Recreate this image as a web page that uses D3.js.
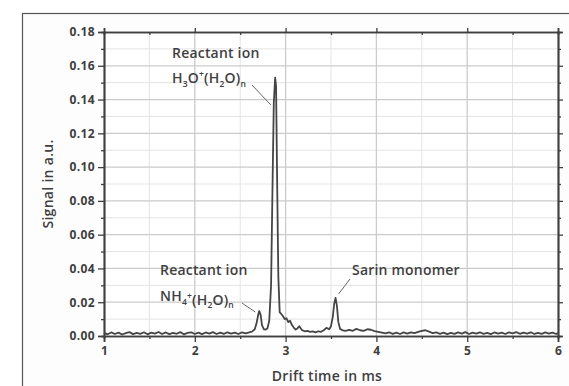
<!DOCTYPE html>
<html>
<head>
<meta charset="utf-8">
<script src="https://cdn.jsdelivr.net/npm/d3@7"></script>
<style>
  html, body { margin: 0; padding: 0; background: #fff; }
  svg { display: block; font-family: "Open Sans", "DejaVu Sans", sans-serif; }
</style>
</head>
<body>
<svg id="chart" width="569" height="386"></svg>
<script>
// Ion mobility spectrum: drift time (ms) vs. signal (a.u.)
const driftTime = [
  1.00, 1.04, 1.08, 1.12, 1.16, 1.20, 1.24, 1.28, 1.32, 1.36, 1.40, 1.44, 1.48, 1.52, 1.56,
  1.60, 1.64, 1.68, 1.72, 1.76, 1.80, 1.84, 1.88, 1.92, 1.96, 2.00, 2.04, 2.08, 2.12, 2.16,
  2.20, 2.24, 2.28, 2.32, 2.36, 2.40, 2.44, 2.48, 2.52, 2.56, 2.60, 2.63, 2.66, 2.68, 2.70,
  2.71, 2.725, 2.74, 2.76, 2.78, 2.80, 2.82, 2.84, 2.855, 2.87, 2.885, 2.895, 2.905, 2.92, 2.935,
  2.95, 2.97, 2.99, 3.01, 3.03, 3.05, 3.07, 3.09, 3.11, 3.13, 3.15, 3.18, 3.21, 3.24, 3.27,
  3.30, 3.33, 3.36, 3.39, 3.42, 3.45, 3.48, 3.50, 3.52, 3.535, 3.55, 3.565, 3.58, 3.60, 3.63,
  3.66, 3.70, 3.74, 3.78, 3.82, 3.86, 3.90, 3.94, 3.98, 4.02, 4.06, 4.10, 4.14, 4.18, 4.22,
  4.26, 4.30, 4.34, 4.38, 4.42, 4.46, 4.50, 4.54, 4.58, 4.62, 4.66, 4.70, 4.74, 4.78, 4.82,
  4.86, 4.90, 4.94, 4.98, 5.02, 5.06, 5.10, 5.14, 5.18, 5.22, 5.26, 5.30, 5.34, 5.38, 5.42,
  5.46, 5.50, 5.54, 5.58, 5.62, 5.66, 5.70, 5.74, 5.78, 5.82, 5.86, 5.90, 5.94, 5.98, 6.00
];
const signal = [
  0.0018, 0.0010, 0.0021, 0.0012, 0.0020, 0.0009, 0.0017, 0.0023, 0.0011, 0.0019, 0.0013, 0.0022, 0.0010, 0.0020, 0.0014,
  0.0024, 0.0012, 0.0021, 0.0011, 0.0019, 0.0013, 0.0023, 0.0010, 0.0018, 0.0022, 0.0012, 0.0020, 0.0011, 0.0021, 0.0014,
  0.0023, 0.0012, 0.0020, 0.0013, 0.0022, 0.0014, 0.0020, 0.0012, 0.0021, 0.0015, 0.0022, 0.0026, 0.0040, 0.0075, 0.0130,
  0.0148, 0.0125, 0.0065, 0.0040, 0.0038, 0.0045, 0.0090, 0.0300, 0.0850, 0.1380, 0.1530, 0.1480, 0.1000, 0.0350, 0.0140,
  0.0132, 0.0118, 0.0100, 0.0105, 0.0082, 0.0090, 0.0065, 0.0050, 0.0038, 0.0045, 0.0058, 0.0035, 0.0028, 0.0030, 0.0024,
  0.0027, 0.0022, 0.0028, 0.0025, 0.0034, 0.0048, 0.0040, 0.0058, 0.0115, 0.0190, 0.0225, 0.0180, 0.0085, 0.0042, 0.0033,
  0.0030, 0.0036, 0.0031, 0.0042, 0.0034, 0.0030, 0.0040, 0.0037, 0.0029, 0.0025, 0.0020, 0.0015, 0.0022, 0.0013, 0.0020,
  0.0012, 0.0021, 0.0014, 0.0022, 0.0017, 0.0024, 0.0030, 0.0034, 0.0026, 0.0017, 0.0022, 0.0013, 0.0020, 0.0011, 0.0019,
  0.0013, 0.0021, 0.0014, 0.0023, 0.0012, 0.0020, 0.0014, 0.0022, 0.0013, 0.0019, 0.0011, 0.0021, 0.0014, 0.0020, 0.0012,
  0.0021, 0.0015, 0.0023, 0.0013, 0.0020, 0.0014, 0.0022, 0.0012, 0.0019, 0.0013, 0.0021, 0.0014, 0.0020, 0.0012, 0.0018
];
const xTicks = [1, 2, 3, 4, 5, 6];
const yTicks = [0.00, 0.02, 0.04, 0.06, 0.08, 0.10, 0.12, 0.14, 0.16, 0.18];
const xLabel = "Drift time in ms";
const yLabel = "Signal in a.u.";

const svg = d3.select("#chart");
const W = 569, H = 386;
const plot = { left: 104, right: 558, top: 32, bottom: 336 };

const x = d3.scaleLinear().domain([1, 6]).range([plot.left, plot.right]);
const y = d3.scaleLinear().domain([0, 0.18]).range([plot.bottom, plot.top]);

const ink = "#3f3f3f";
const labelFont = "'Open Sans', sans-serif";

// outer figure frame (runs off the right and bottom edges)
svg.append("rect")
  .attr("x", 22.5).attr("y", 13.5)
  .attr("width", W).attr("height", H)
  .attr("fill", "#fdfdfd").attr("stroke", "#555").attr("stroke-width", 1.2);

svg.append("rect")
  .attr("x", plot.left).attr("y", plot.top)
  .attr("width", plot.right - plot.left).attr("height", plot.bottom - plot.top)
  .attr("fill", "#fff");

// grid: minor first, then major
const g = svg.append("g");
const xMinor = d3.range(1.5, 6, 1);
const yMinor = d3.range(0.01, 0.18, 0.02);
g.selectAll(".vm").data(xMinor).join("line")
  .attr("x1", d => x(d)).attr("x2", d => x(d))
  .attr("y1", plot.top).attr("y2", plot.bottom)
  .attr("stroke", "#e4e4e4").attr("stroke-width", 1);
g.selectAll(".hm").data(yMinor).join("line")
  .attr("y1", d => y(d)).attr("y2", d => y(d))
  .attr("x1", plot.left).attr("x2", plot.right)
  .attr("stroke", "#e4e4e4").attr("stroke-width", 1);
g.selectAll(".vM").data(xTicks.slice(1, -1)).join("line")
  .attr("x1", d => x(d)).attr("x2", d => x(d))
  .attr("y1", plot.top).attr("y2", plot.bottom)
  .attr("stroke", "#cbcbcb").attr("stroke-width", 1.3);
g.selectAll(".hM").data(yTicks.slice(1, -1)).join("line")
  .attr("y1", d => y(d)).attr("y2", d => y(d))
  .attr("x1", plot.left).attr("x2", plot.right)
  .attr("stroke", "#cbcbcb").attr("stroke-width", 1.3);

// axes
const fmt = d3.format(".2f");
function styleAxis(sel) {
  sel.select(".domain").attr("stroke", ink).attr("stroke-width", 1.7);
  sel.selectAll(".tick line").attr("stroke", ink).attr("stroke-width", 1.3);
  sel.selectAll("text").attr("fill", ink).attr("font-size", 12).attr("font-weight", 700)
    .attr("letter-spacing", 0.4).attr("font-family", labelFont);
}
const minorAxis = (axis, scale, vals) => axis(scale).tickValues(vals).tickSize(3).tickFormat("");

svg.append("g").attr("transform", `translate(0,${plot.bottom})`)
  .call(minorAxis(d3.axisBottom, x, xMinor)).call(styleAxis);
svg.append("g").attr("transform", `translate(0,${plot.top})`)
  .call(d3.axisTop(x).tickValues(xMinor).tickSize(-3).tickFormat("")).call(styleAxis);
svg.append("g").attr("transform", `translate(${plot.left},0)`)
  .call(minorAxis(d3.axisLeft, y, yMinor)).call(styleAxis);
svg.append("g").attr("transform", `translate(${plot.right},0)`)
  .call(minorAxis(d3.axisRight, y, yMinor)).call(styleAxis);

svg.append("g").attr("transform", `translate(0,${plot.bottom})`)
  .call(d3.axisBottom(x).tickValues(xTicks).tickSize(6).tickPadding(4).tickFormat(d3.format("d")))
  .call(styleAxis);
svg.append("g").attr("transform", `translate(0,${plot.top})`)
  .call(d3.axisTop(x).tickValues(xTicks).tickSize(4).tickFormat("")).call(styleAxis);
svg.append("g").attr("transform", `translate(${plot.left},0)`)
  .call(d3.axisLeft(y).tickValues(yTicks).tickSize(6).tickPadding(3).tickFormat(fmt))
  .call(styleAxis);
svg.append("g").attr("transform", `translate(${plot.right},0)`)
  .call(d3.axisRight(y).tickValues(yTicks).tickSize(5).tickFormat("")).call(styleAxis);

// axis titles
svg.append("text")
  .attr("x", (plot.left + plot.right) / 2 - 4).attr("y", 381)
  .attr("text-anchor", "middle").attr("font-size", 14).attr("font-weight", 600)
  .attr("letter-spacing", 0.3).attr("fill", ink).text(xLabel);
svg.append("text")
  .attr("transform", `translate(53,${(plot.top + plot.bottom) / 2}) rotate(-90)`)
  .attr("text-anchor", "middle").attr("font-size", 14).attr("font-weight", 600)
  .attr("letter-spacing", 0.3).attr("fill", ink).text(yLabel);

// spectrum trace
const pts = driftTime.map((t, i) => [t, signal[i]]);
svg.append("path")
  .datum(pts)
  .attr("fill", "none").attr("stroke", "#454545").attr("stroke-width", 1.8)
  .attr("stroke-linejoin", "round")
  .attr("d", d3.line().x(d => x(d[0])).y(d => y(d[1])));

// peak annotations
function plainLabel(px, py, str) {
  return svg.append("text").attr("x", px).attr("y", py)
    .attr("font-size", 14).attr("font-weight", 600).attr("letter-spacing", 0.2)
    .attr("fill", ink).text(str);
}
function ionLabel(px, py, parts) {
  const t = svg.append("text").attr("x", px).attr("y", py)
    .attr("font-size", 14).attr("font-weight", 600).attr("letter-spacing", 0.2).attr("fill", ink);
  parts.forEach(p => {
    const s = t.append("tspan").text(p.t);
    if (p.sub) s.attr("font-size", 8.5).attr("dy", 3.5);
    if (p.sup) s.attr("font-size", 8.5).attr("dy", -6);
    if (p.back) s.attr("dy", p.back);
  });
  return t;
}
function leader(x1, y1, x2, y2) {
  svg.append("line").attr("x1", x1).attr("y1", y1).attr("x2", x2).attr("y2", y2)
    .attr("stroke", "#666").attr("stroke-width", 1);
}

// H3O+(H2O)n
plainLabel(172, 58, "Reactant ion");
ionLabel(172, 83, [
  { t: "H" }, { t: "3", sub: true }, { t: "O", back: -3.5 }, { t: "+", sup: true },
  { t: "(H", back: 6 }, { t: "2", sub: true }, { t: "O)", back: -3.5 }, { t: "n", sub: true }
]);
leader(252, 85, x(2.87) - 3, y(0.138) + 2);

// NH4+(H2O)n
plainLabel(160, 275, "Reactant ion");
ionLabel(160, 301, [
  { t: "NH" }, { t: "4", sub: true }, { t: "+", sup: true },
  { t: "(H", back: 6 }, { t: "2", sub: true }, { t: "O)", back: -3.5 }, { t: "n", sub: true }
]);
leader(242, 303, x(2.71) - 4, y(0.0148) + 1);

// Sarin monomer
plainLabel(352, 275, "Sarin monomer");
leader(350, 279, x(3.55) + 3, y(0.0225) - 4);
</script>
</body>
</html>
